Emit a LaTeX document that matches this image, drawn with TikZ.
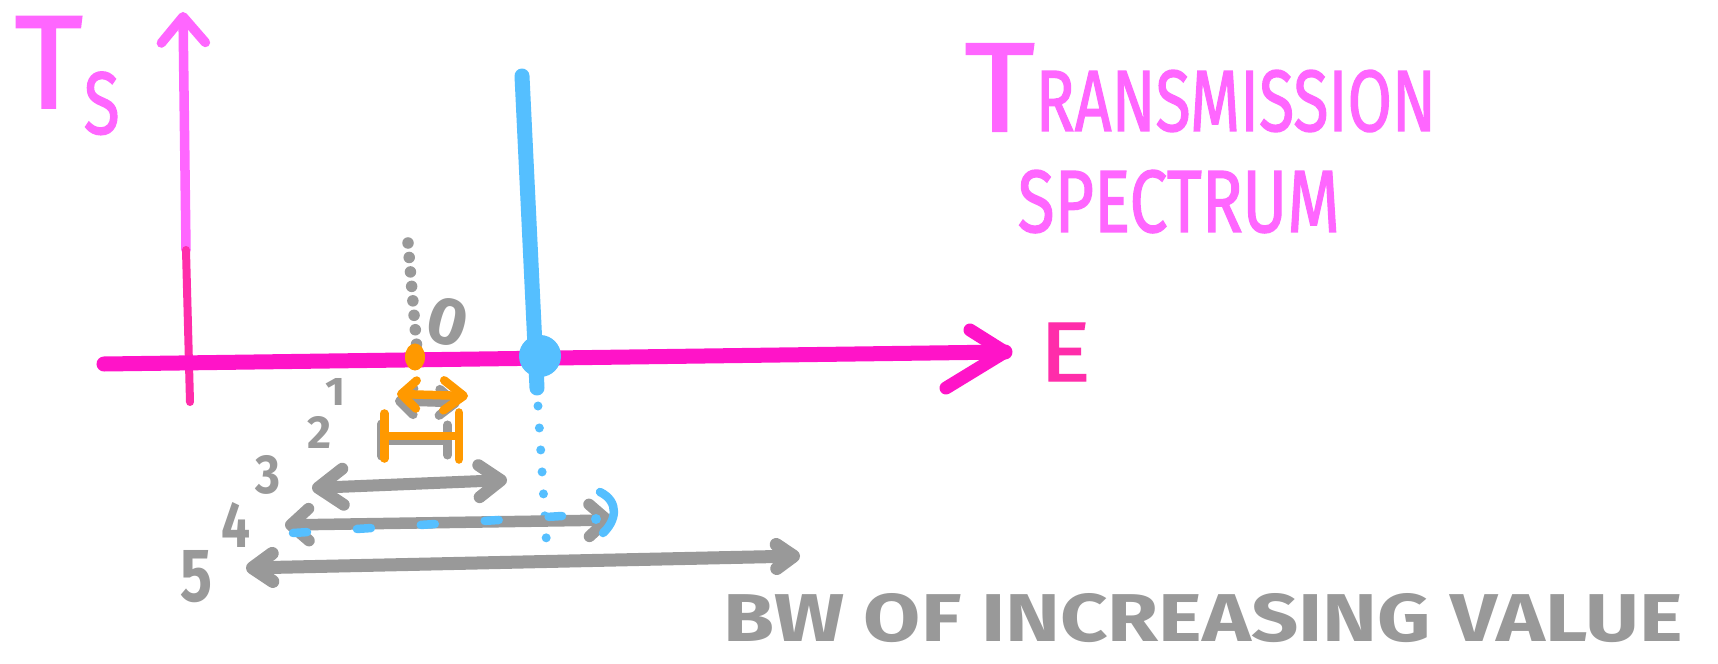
\documentclass[tikz,border=0pt]{standalone}
\usepackage{fontspec}
\setmainfont{Fira Sans}
\newfontfamily\markerfont{Fira Sans}[FakeBold=1.6]
\usepackage{graphicx}
\usetikzlibrary{arrows.meta,shapes.geometric}

\definecolor{lightpink}{HTML}{FF66FF}
\definecolor{hotpink}{HTML}{FF14C8}
\definecolor{deeppink}{HTML}{FF2DAA}
\definecolor{sketchgray}{HTML}{999999}
\definecolor{sketchorange}{HTML}{FF9900}
\definecolor{sketchblue}{HTML}{55BFFF}

\tikzset{
  pen/.style={line cap=round, line join=round},
  grayarrow/.style={pen, sketchgray},
  dotline/.style={pen, dash pattern=on 0pt off #1},
  label/.style={inner sep=0pt},
}

\begin{document}
\begin{tikzpicture}[x=0.01cm, y=-0.01cm]
\useasboundingbox[fill=white] (0,0) rectangle (1718,664);

% ---- axes ----
\coordinate (vtop) at (183,12);
\coordinate (vmid) at (186,250);
\coordinate (vbot) at (190,402);
\coordinate (hleft) at (104,364);
\coordinate (htip) at (1005,352);
\coordinate (hbarbup) at (970,330);
\coordinate (hbarblo) at (946,388);

\draw[pen, lightpink, line width=0.095cm,
      {Straight Barb[length=0.26cm,width=0.44cm,round]}-] (vtop) -- (vmid);
\draw[pen, deeppink, line width=0.08cm] (vmid) -- (vbot);
\draw[pen, hotpink, line width=0.15cm] (hleft) -- (htip);
\draw[pen, hotpink, line width=0.13cm] (hbarbup) -- (htip) -- (hbarblo);

% ---- blue reference line ----
\coordinate (btop) at (522,76);
\coordinate (bbot) at (537,388);
\draw[pen, sketchblue, line width=0.15cm] (btop) -- (bbot);
\node[circle, fill=sketchblue, minimum size=0.42cm, inner sep=0pt] (bdot) at (540,356) {};
\coordinate (bd1) at (538,406);
\coordinate (bd2) at (548,567);
\draw[dotline=0.22cm, sketchblue, line width=0.09cm] (bd1) -- (bd2);

% ---- gray dotted line and orange dot ----
\coordinate (gd1) at (408,243);
\coordinate (gd2) at (417,350);
\draw[dotline=0.145cm, sketchgray, line width=0.115cm] (gd1) -- (gd2);
\node[ellipse, fill=sketchorange, minimum width=0.2cm, minimum height=0.27cm, inner sep=0pt] (odot) at (415,357) {};

% ---- level 1: small double arrow ----
\coordinate (a1l) at (397,394);
\coordinate (a1r) at (468,396);
\draw[grayarrow, line width=0.09cm,
      {Straight Barb[length=0.14cm,width=0.26cm,round]}-{Straight Barb[length=0.16cm,width=0.26cm,round]}]
      ([shift={(-2,7)}]a1l) -- ([shift={(-8,7)}]a1r);
\draw[pen, sketchorange, line width=0.085cm,
      {Straight Barb[length=0.15cm,width=0.28cm,round]}-{Straight Barb[length=0.20cm,width=0.30cm,round]}]
      (a1l) -- (a1r);

% ---- level 2: bar ----
\coordinate (a2gl) at (377,440);
\coordinate (a2gr) at (452,440);
\coordinate (a2l) at (380,436);
\coordinate (a2r) at (463,436);
\draw[grayarrow, line width=0.09cm, {Bar[width=0.32cm,round]}-{Bar[width=0.30cm,round]}] (a2gl) -- (a2gr);
\draw[pen, sketchorange, line width=0.085cm, {Bar[width=0.45cm,round]}-{Bar[width=0.47cm,round]}] (a2l) -- (a2r);

% ---- level 3 ----
\coordinate (a3l) at (312,488);
\coordinate (a3r) at (507,480);
\draw[grayarrow, line width=0.12cm,
      {Straight Barb[length=0.25cm,width=0.36cm,round]}-{Straight Barb[length=0.22cm,width=0.32cm,round]}]
      (a3l) -- (a3r);

% ---- level 4 ----
\coordinate (a4l) at (285,525);
\coordinate (a4r) at (613,520);
\draw[grayarrow, line width=0.115cm,
      {Straight Barb[length=0.18cm,width=0.32cm,round]}-{Straight Barb[length=0.18cm,width=0.32cm,round]}]
      (a4l) -- (a4r);
\coordinate (bl4a) at (293,533);
\coordinate (bl4b) at (562,516);
\draw[pen, sketchblue, line width=0.085cm, dash pattern=on 0.14cm off 0.50cm] (bl4a) -- (bl4b);
\coordinate (bh1) at (600,492);
\coordinate (bh2) at (603,533);
\draw[pen, sketchblue, line width=0.085cm] (bh1) .. controls (620,502) and (616,521) .. (bh2);
\node[circle, fill=sketchblue, minimum size=0.10cm, inner sep=0pt] (bh3) at (596,519) {};

% ---- level 5 ----
\coordinate (a5l) at (246,568);
\coordinate (a5r) at (800,556);
\draw[grayarrow, line width=0.13cm,
      {Straight Barb[length=0.20cm,width=0.28cm,round]}-{Straight Barb[length=0.17cm,width=0.24cm,round]}]
      (a5l) -- (a5r);

% ---- level numbers ----
\node[label, text=sketchgray, rotate=-15] (n0) at (448,322) {\resizebox{0.40cm}{0.46cm}{\bfseries 0}};
\node[label, text=sketchgray] (n1) at (336,392) {\resizebox{0.20cm}{0.27cm}{\bfseries 1}};
\node[label, text=sketchgray] (n2) at (320,432) {\resizebox{0.24cm}{0.32cm}{\bfseries 2}};
\node[label, text=sketchgray] (n3) at (268,475) {\resizebox{0.25cm}{0.38cm}{\bfseries 3}};
\node[label, text=sketchgray] (n4) at (236,525) {\resizebox{0.29cm}{0.45cm}{\bfseries 4}};
\node[label, text=sketchgray] (n5) at (197,577) {\resizebox{0.32cm}{0.51cm}{\bfseries 5}};

% ---- texts ----
\node[label, anchor=north west, text=lightpink] (ts) at (14,16)
  {\markerfont\resizebox{0.68cm}{0.91cm}{T}\hspace{0.01cm}\raisebox{-0.26cm}{\resizebox{0.36cm}{0.62cm}{S}}};
\node[label, anchor=base west, text=lightpink] (trans) at (964,131)
  {\markerfont\resizebox{0.70cm}{0.87cm}{T}\hspace{0.01cm}\resizebox{4.00cm}{0.61cm}{RANSMISSION}};
\node[label, anchor=base west, text=lightpink] (spec) at (1017,232)
  {\markerfont\resizebox{3.22cm}{0.62cm}{SPECTRUM}};
\node[label, anchor=base west, text=deeppink] (elbl) at (1039,381)
  {\markerfont\resizebox{0.51cm}{0.58cm}{E}};
\node[label, anchor=base west, text=sketchgray] (bw) at (723,641)
  {\resizebox{9.59cm}{0.48cm}{\bfseries BW OF INCREASING VALUE}};
\end{tikzpicture}
\end{document}
